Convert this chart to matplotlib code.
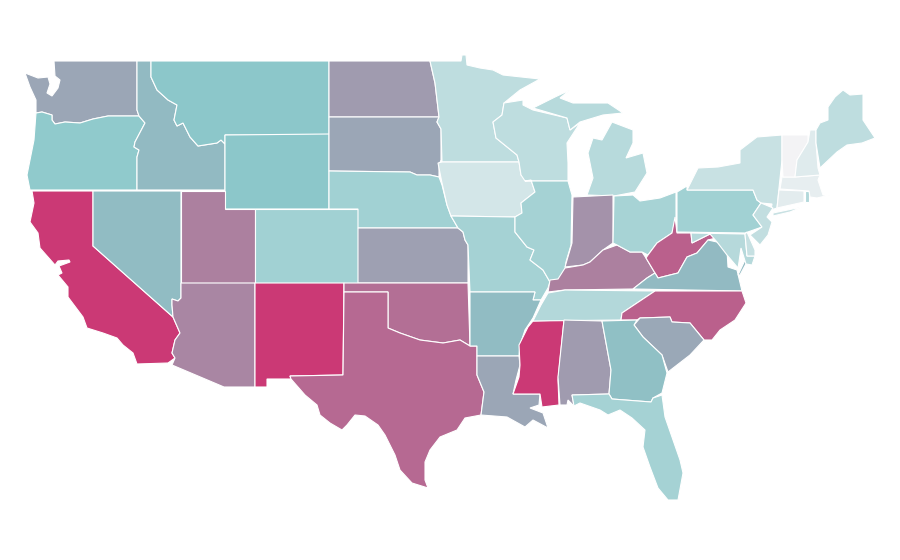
import matplotlib
matplotlib.use('Agg')
import matplotlib.pyplot as plt
from matplotlib.colors import LinearSegmentedColormap, Normalize

# value per state (index scale 0-100)
state_names = ['WA', 'OR', 'CA', 'ID', 'NV', 'MT', 'WY', 'UT', 'AZ', 'CO', 'NM',
               'ND', 'SD', 'NE', 'KS', 'OK', 'TX', 'MN', 'IA', 'MO', 'AR', 'LA',
               'WI', 'IL', 'MS', 'MI', 'IN', 'KY', 'TN', 'AL', 'OH', 'WV', 'VA',
               'NC', 'SC', 'GA', 'FL', 'PA', 'NY', 'MD', 'DE', 'NJ', 'CT', 'RI',
               'MA', 'VT', 'NH', 'ME']
state_values = [62, 48, 100, 55, 54, 50, 50, 75, 73, 40, 100,
                66, 62, 40, 64, 81, 83, 26, 16, 38, 54, 62,
                26, 38, 100, 29, 69, 75, 31, 66, 37, 86, 55,
                86, 61, 53, 38, 40, 21, 30, 22, 24, 8, 32,
                6, 0, 10, 26]

# state outlines, projected to the map's own x/y grid
outlines = {
    'WA': [[(54, 61), (137, 61), (137, 110), (139, 116), (108, 116), (93, 119), (80, 123), (65, 122),
            (55, 124), (52, 120), (52, 115), (42, 112), (36, 113), (36, 100), (30, 87), (25, 73), (38, 78),
            (48, 77), (50, 84), (47, 93), (52, 96), (58, 88), (60, 80), (55, 76)]],
    'OR': [[(36, 113), (42, 112), (52, 115), (52, 120), (55, 124), (65, 122), (80, 123), (93, 119),
            (108, 116), (139, 116), (145, 123), (135, 142), (134, 147), (139, 150), (137, 157), (137, 190),
            (30, 190), (27, 175), (30, 160), (34, 140)]],
    'CA': [[(32, 191), (93, 191), (93, 246), (173, 317), (180, 333), (175, 340), (172, 353), (175, 358),
            (168, 363), (137, 364), (133, 353), (123, 345), (117, 338), (103, 333), (87, 328), (83, 317),
            (68, 297), (68, 287), (58, 275), (62, 273), (59, 266), (70, 262), (69, 260), (58, 261), (55, 265),
            (40, 248), (38, 233), (30, 222), (34, 203)]],
    'ID': [[(137, 61), (151, 61), (151, 77), (157, 90), (168, 100), (177, 105), (174, 120), (177, 126),
            (183, 123), (190, 137), (198, 146), (217, 143), (221, 140), (225, 144), (225, 190), (137, 190),
            (137, 157), (139, 150), (134, 147), (135, 142), (145, 123), (139, 116), (137, 110)]],
    'NV': [[(93, 191), (181, 191), (181, 298), (178, 301), (172, 299), (172, 305), (173, 317), (93, 246)]],
    'MT': [[(151, 61), (329, 61), (329, 135), (225, 135), (225, 144), (221, 140), (217, 143), (198, 146),
            (190, 137), (183, 123), (177, 126), (174, 120), (177, 105), (168, 100), (157, 90), (151, 77)]],
    'WY': [[(225, 135), (329, 134), (329, 209), (225, 209)]],
    'UT': [[(181, 191), (225, 191), (225, 209), (255, 209), (255, 283), (181, 283)]],
    'AZ': [[(181, 283), (255, 283), (255, 387), (224, 387), (172, 365), (175, 358), (172, 353), (175, 340),
            (180, 333), (173, 317), (172, 305), (172, 299), (178, 301), (181, 298)]],
    'CO': [[(255, 209), (358, 209), (358, 283), (255, 283)]],
    'NM': [[(255, 283), (344, 283), (343, 375), (290, 376), (291, 379), (267, 379), (267, 387), (255, 387)]],
    'ND': [[(329, 61), (430, 61), (435, 83), (439, 117), (329, 117)]],
    'SD': [[(329, 117), (439, 117), (437, 122), (441, 129), (441, 160), (439, 165), (439, 177), (430, 175),
            (417, 175), (410, 172), (329, 171)]],
    'NE': [[(329, 171), (410, 172), (417, 175), (430, 175), (439, 177), (442, 185), (447, 205), (451, 216),
            (458, 228), (358, 228), (358, 209), (329, 209)]],
    'KS': [[(358, 228), (458, 228), (463, 232), (465, 240), (468, 245), (468, 283), (358, 283)]],
    'OK': [[(344, 283), (468, 283), (470, 346), (460, 340), (443, 343), (420, 340), (400, 333), (388, 328),
            (388, 292), (344, 292)]],
    'TX': [[(344, 292), (388, 292), (388, 328), (400, 333), (420, 340), (443, 343), (460, 340), (470, 346),
            (477, 346), (477, 375), (484, 392), (481, 415), (465, 418), (457, 430), (440, 437), (430, 450),
            (425, 462), (425, 480), (428, 488), (412, 483), (400, 470), (395, 455), (385, 435), (378, 425),
            (365, 416), (355, 415), (347, 425), (342, 430), (330, 423), (320, 415), (317, 405), (305, 395),
            (291, 379), (290, 376), (343, 375)]],
    'MN': [[(430, 61), (461, 61), (462, 55), (466, 55), (467, 65), (480, 68), (493, 70), (503, 75), (540, 79),
            (520, 90), (504, 103), (502, 115), (493, 122), (496, 138), (517, 155), (519, 162), (442, 162),
            (441, 129), (437, 122), (439, 117), (435, 83)]],
    'IA': [[(442, 162), (519, 162), (521, 175), (531, 180), (535, 192), (521, 203), (522, 213), (515, 217),
            (451, 216), (447, 205), (442, 183), (438, 163)]],
    'MO': [[(451, 216), (515, 217), (515, 232), (527, 247), (534, 250), (530, 260), (543, 270), (550, 282),
            (548, 288), (541, 300), (533, 300), (535, 292), (470, 292), (468, 245), (465, 240), (463, 232),
            (458, 228)]],
    'AR': [[(470, 292), (535, 292), (533, 300), (541, 300), (533, 318), (525, 330), (520, 345), (519, 356),
            (477, 356), (477, 346), (470, 346)]],
    'LA': [[(477, 356), (519, 356), (520, 365), (516, 380), (513, 394), (540, 394), (539, 405), (530, 408),
            (543, 413), (548, 428), (533, 420), (525, 427), (507, 417), (481, 415), (484, 392), (477, 375)]],
    'WI': [[(504, 103), (523, 100), (523, 105), (533, 110), (567, 118), (570, 130), (580, 123), (567, 143),
            (568, 163), (568, 181), (525, 181), (521, 175), (519, 162), (517, 155), (496, 138), (493, 122),
            (502, 115)]],
    'IL': [[(525, 181), (568, 181), (572, 195), (571, 245), (566, 262), (565, 270), (559, 280), (550, 282),
            (543, 270), (530, 260), (534, 250), (527, 247), (515, 232), (515, 217), (522, 213), (521, 203),
            (535, 192), (531, 180)]],
    'MS': [[(533, 321), (564, 320), (558, 380), (559, 405), (542, 407), (540, 394), (513, 394), (519, 377),
            (520, 365), (519, 345), (528, 327)]],
    'MI': [[(593, 138), (602, 140), (612, 122), (633, 130), (633, 143), (626, 158), (643, 153), (647, 173),
            (635, 192), (614, 196), (587, 195), (593, 178), (588, 153)],
           [(533, 108), (555, 97), (570, 90), (560, 98), (573, 103), (608, 103), (623, 113), (603, 115), (580, 122),
            (570, 130), (567, 118)]],
    'IN': [[(573, 197), (613, 195), (613, 243), (603, 250), (590, 262), (583, 265), (565, 267), (572, 243)]],
    'KY': [[(548, 292), (550, 280), (558, 279), (565, 268), (583, 265), (590, 262), (603, 250), (617, 245),
            (630, 252), (642, 252), (646, 258), (655, 273), (647, 278), (633, 289), (565, 290)]],
    'TN': [[(548, 293), (565, 290), (655, 291), (640, 301), (622, 313), (621, 320), (533, 321), (541, 305)]],
    'AL': [[(564, 320), (602, 321), (611, 370), (609, 394), (572, 395), (574, 406), (568, 400), (567, 405),
            (560, 405), (558, 377)]],
    'OH': [[(614, 196), (633, 195), (640, 201), (660, 198), (676, 192), (676, 217), (672, 233), (657, 243),
            (648, 255), (642, 252), (630, 252), (617, 245), (613, 243)]],
    'WV': [[(675, 217), (677, 233), (691, 233), (692, 243), (710, 234), (716, 238), (708, 240), (697, 253),
            (687, 257), (678, 273), (658, 278), (655, 273), (646, 258), (648, 255), (657, 243), (672, 233)]],
    'VA': [[(633, 289), (647, 278), (655, 273), (658, 278), (678, 273), (687, 257), (697, 253), (708, 240),
            (717, 242), (727, 250), (728, 267), (737, 270), (742, 291)],
           [(746, 258), (748, 260), (740, 275), (738, 275)]],
    'NC': [[(621, 320), (622, 313), (640, 301), (655, 291), (742, 291), (746, 303), (735, 320), (720, 330),
            (712, 340), (704, 340), (690, 323), (672, 322), (670, 317), (640, 318), (637, 320)]],
    'SC': [[(634, 325), (640, 318), (670, 317), (672, 322), (690, 323), (704, 340), (690, 355), (668, 372),
            (662, 355), (643, 337)]],
    'GA': [[(602, 321), (637, 320), (634, 325), (643, 337), (662, 355), (667, 373), (662, 393), (653, 398),
            (651, 402), (612, 399), (609, 394), (611, 370)]],
    'FL': [[(572, 395), (609, 394), (612, 399), (651, 402), (653, 398), (662, 395), (665, 417), (680, 460),
            (683, 473), (678, 500), (668, 500), (658, 488), (650, 467), (643, 447), (645, 430), (632, 418),
            (620, 410), (608, 415), (600, 410), (580, 403), (574, 406)]],
    'PA': [[(677, 192), (687, 186), (687, 190), (753, 190), (757, 200), (761, 203), (753, 215), (762, 227),
            (745, 233), (677, 232)]],
    'NY': [[(687, 190), (698, 168), (718, 167), (740, 163), (740, 150), (757, 137), (782, 135), (782, 160),
            (779, 188), (777, 208), (771, 210), (772, 204), (761, 203), (757, 200), (753, 190)],
           [(773, 213), (802, 207), (790, 212), (773, 216)]],
    'MD': [[(691, 233), (745, 234), (747, 256), (755, 256), (752, 265), (746, 264), (741, 248), (739, 262),
            (738, 268), (727, 255), (717, 242), (710, 234), (692, 243)]],
    'DE': [[(745, 234), (747, 232), (755, 250), (755, 256), (747, 256)]],
    'NJ': [[(761, 203), (773, 208), (767, 217), (772, 222), (768, 235), (760, 245), (750, 235), (762, 227),
            (753, 215)]],
    'CT': [[(779, 190), (804, 191), (804, 202), (777, 208)]],
    'RI': [[(805, 191), (809, 191), (809, 202), (805, 202)]],
    'MA': [[(782, 177), (795, 177), (820, 175), (818, 180), (823, 195), (830, 195), (817, 198), (810, 197),
            (809, 191), (780, 189)]],
    'VT': [[(782, 135), (808, 135), (808, 142), (797, 160), (795, 177), (783, 177), (782, 160)]],
    'NH': [[(810, 130), (816, 130), (816, 143), (818, 168), (820, 175), (795, 177), (797, 160), (808, 142)]],
    'ME': [[(816, 130), (820, 123), (828, 120), (828, 107), (835, 97), (843, 90), (850, 95), (863, 94),
            (863, 120), (875, 138), (862, 143), (847, 145), (837, 152), (820, 168), (816, 143)]],
}

cmap = LinearSegmentedColormap.from_list('rate', ['#f3f3f5', '#8cc8ca', '#cb3975'])
norm = Normalize(0, 100)

fig, ax = plt.subplots(figsize=(9, 5.6), dpi=100)
fig.subplots_adjust(left=0, right=1, top=1, bottom=0)
ax.set_xlim(0, 900)
ax.set_ylim(560, 0)
ax.axis('off')

for name, value in zip(state_names, state_values):
    for ring in outlines[name]:
        xs, ys = zip(*ring)
        ax.fill(xs, ys, facecolor=cmap(norm(value)), edgecolor='white', linewidth=0.8, label=name)

fig.savefig('out.png', dpi=100, facecolor='white')
